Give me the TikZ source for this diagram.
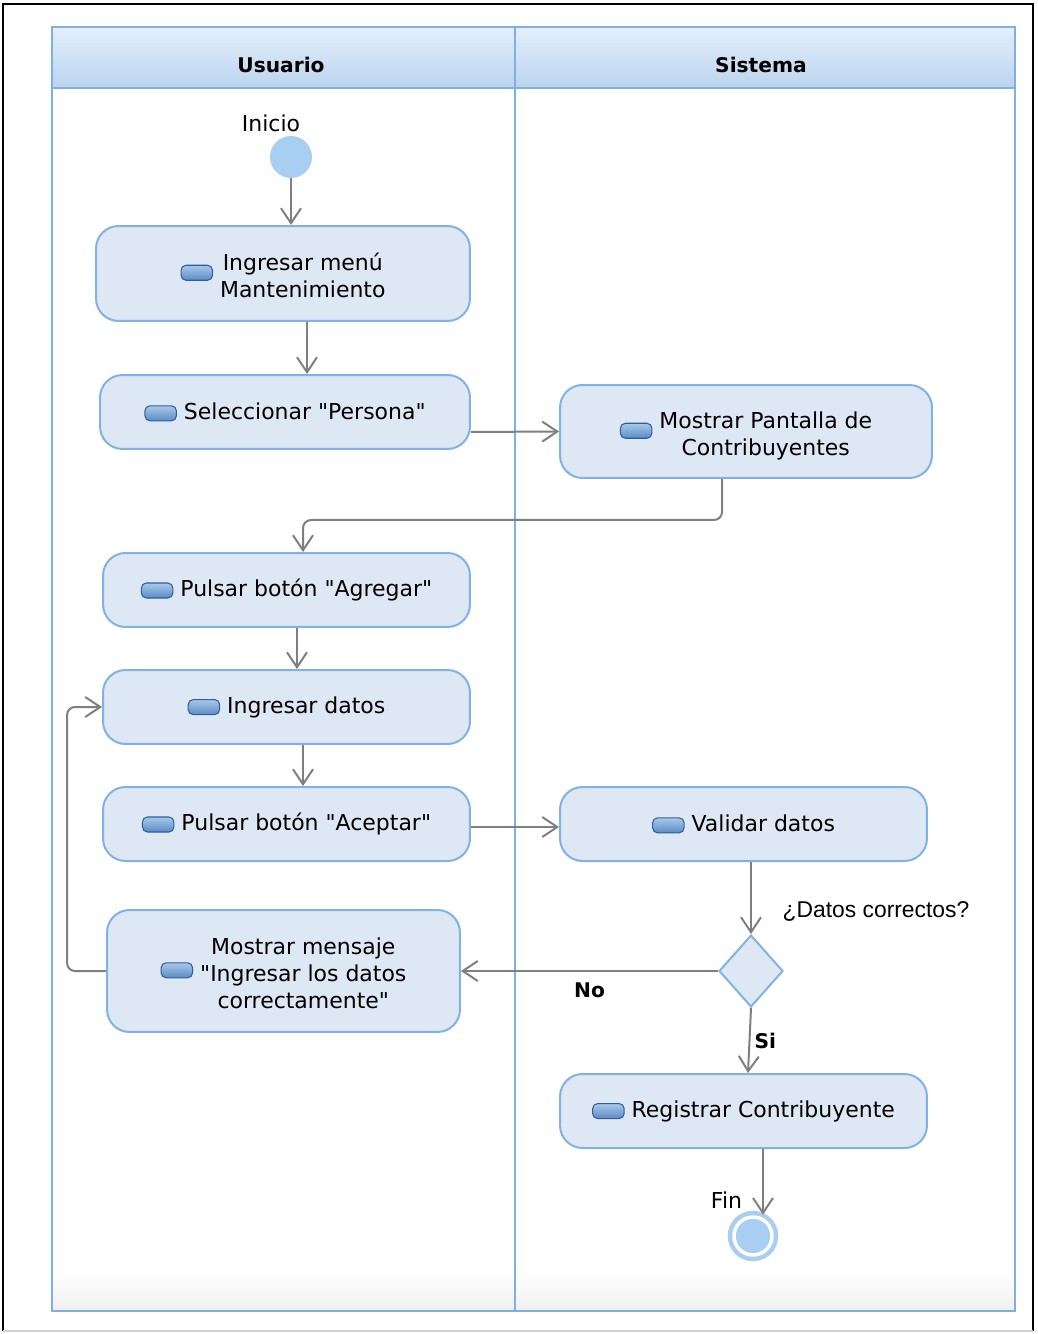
\documentclass[tikz,border=0pt]{standalone}
\usepackage{fontspec}
\setmainfont{DejaVu Sans}[Ligatures=TeXOff]
\newfontfamily\qfont{Liberation Sans}
\usepackage{tikz}
\usetikzlibrary{arrows.meta,shapes.geometric,calc}

\definecolor{lanebd}{HTML}{7FB0E2}
\definecolor{hdtop}{HTML}{E4EFFA}
\definecolor{hdbot}{HTML}{BAD4EE}
\definecolor{actfill}{HTML}{DEE8F4}
\definecolor{actbd}{HTML}{80B2E4}
\definecolor{dotfill}{HTML}{A8CEF2}
\definecolor{flowgray}{HTML}{7F7F7F}
\definecolor{icontop}{HTML}{A9C8EA}
\definecolor{iconmid}{HTML}{D2E3F5}
\definecolor{iconbot}{HTML}{5A8CC4}
\definecolor{iconbd}{HTML}{2F5F98}

\newcommand{\actfont}{\fontsize{12.5}{15.5}\selectfont}
\newcommand{\acticon}{%
  \tikz[x=1cm, y=1cm, baseline=-0.12cm]
    \shade[top color=icontop, middle color=iconmid, bottom color=iconbot,
           draw=iconbd, line width=0.6pt, rounded corners=0.1cm]
      (0,-0.15) rectangle (0.63,0.15);%
  \hspace{0.14cm}}
\newcommand{\actlines}[1]{%
  \raisebox{-0.1cm}[\height][\depth]{\begin{tabular}{@{}c@{}}#1\end{tabular}}}

\tikzset{
  lanebox/.style  = {draw=lanebd, line width=0.04cm},
  lanehead/.style = {top color=hdtop, bottom color=hdbot, draw=lanebd,
                     line width=0.04cm},
  headtxt/.style  = {font=\fontsize{11.5}{14}\selectfont\bfseries, inner sep=0pt},
  actbox/.style   = {draw=actbd, fill=actfill, line width=0.04cm,
                     rounded corners=0.45cm, align=center, font=\actfont,
                     inner sep=0pt},
  choice/.style   = {diamond, draw=actbd, fill=actfill, line width=0.04cm,
                     minimum width=1.28cm, minimum height=1.44cm, inner sep=0pt},
  startdot/.style = {circle, fill=dotfill, minimum size=0.84cm, inner sep=0pt},
  enddot/.style   = {circle, fill=dotfill, draw=dotfill, line width=0.09cm,
                     double=white, double distance=0.07cm,
                     minimum size=0.76cm, inner sep=0pt},
  flowar/.style   = {-{Straight Barb[length=0.3cm,width=0.4cm]}, flowgray,
                     line width=0.04cm},
  txtlabel/.style = {font=\actfont, text=black, inner sep=0pt},
  boldlbl/.style  = {font=\fontsize{11.5}{14}\selectfont\bfseries, text=black,
                     inner sep=0pt}
}

\begin{document}
\begin{tikzpicture}[x=0.02cm, y=-0.02cm]
  \useasboundingbox (0,0) rectangle (1037,1334);

  % outer frame
  \draw[black, line width=0.05cm] (3,1331) -- (3,4) -- (1033,4) -- (1033,1331);
  \draw[gray!35, line width=0.04cm] (3,1331) -- (1033,1331);

  % swimlanes
  \shade[top color=white, bottom color=gray!12] (52,1272) rectangle (1015,1311);
  \path[lanehead] (52,27) rectangle (1015,88);
  \draw[lanebox] (52,27) rectangle (1015,1311);
  \draw[lanebox] (515,27) -- (515,1311);
  \node[headtxt] (husr) at (281,65) {Usuario};
  \node[headtxt] (hsis) at (761,65) {Sistema};

  % Usuario
  \node[txtlabel] (inilbl) at (271,123) {Inicio};
  \node[startdot] (init) at (291,157) {};
  \node[actbox, minimum width=7.48cm, minimum height=1.9cm] (a1) at (283,273.5)
    {\acticon\actlines{Ingresar menú\\Mantenimiento}};
  \node[actbox, minimum width=7.4cm, minimum height=1.48cm] (a2) at (285,412)
    {\acticon Seleccionar "Persona"};
  \node[actbox, minimum width=7.34cm, minimum height=1.48cm] (a4) at (286.5,590)
    {\acticon Pulsar botón "Agregar"};
  \node[actbox, minimum width=7.34cm, minimum height=1.48cm] (a5) at (286.5,707)
    {\acticon Ingresar datos};
  \node[actbox, minimum width=7.34cm, minimum height=1.48cm] (a6) at (286.5,824)
    {\acticon Pulsar botón "Aceptar"};
  \node[actbox, minimum width=7.06cm, minimum height=2.44cm] (a8) at (283.5,971)
    {\acticon\actlines{Mostrar mensaje\\"Ingresar los datos\\correctamente"}};

  % Sistema
  \node[actbox, minimum width=7.44cm, minimum height=1.86cm] (a3) at (746,431.5)
    {\acticon\actlines{Mostrar Pantalla de\\Contribuyentes}};
  \node[actbox, minimum width=7.34cm, minimum height=1.48cm] (a7) at (743.5,824)
    {\acticon Validar datos};
  \node[choice] (dec) at (751,971) {};
  \node[font=\qfont\fontsize{13}{15}\selectfont, inner sep=0pt] (qlbl) at (876,911)
    {¿Datos correctos?};
  \node[actbox, minimum width=7.34cm, minimum height=1.48cm] (a9) at (743.5,1111)
    {\acticon Registrar Contribuyente};
  \node[enddot] (fin) at (753,1236) {};

  % flows
  \draw[flowar] (init) -- (init |- a1.north);
  \draw[flowar] ($(a1.south)+(24,0)$) -- ($(a2.north)+(22,0)$);
  \draw[flowar] ($(a2.east)+(0,20)$) -- (a3.west);
  \draw[flowar, rounded corners=0.16cm] ($(a3.south)+(-24,0)$) -- ++(0,41)
    -| ($(a4.north)+(16.5,0)$);
  \draw[flowar] ($(a4.south)+(10.5,0)$) -- ($(a5.north)+(10.5,0)$);
  \draw[flowar] ($(a5.south)+(16.5,0)$) -- ($(a6.north)+(16.5,0)$);
  \draw[flowar] ($(a6.east)+(0,3)$) -- ($(a7.west)+(0,3)$);
  \draw[flowar] (a7.south -| dec) -- (dec.north);
  \draw[flowar] (dec.west) -- (a8.east) node[midway, below=0.22cm, boldlbl] {No};
  \draw[flowar] (dec.south) -- ($(a9.north)+(4.5,0)$)
    node[midway, right=0.08cm, boldlbl] {Si};
  \draw[flowar, rounded corners=0.16cm] (a8.west) -- ++(-39,0) |- (a5.west);
  \coordinate (finin) at ($(a9.south)+(19.5,0)$);
  \draw[flowar] (finin) -- (finin |- fin.north)
    node[pos=0.78, left=0.4cm, txtlabel] {Fin};
\end{tikzpicture}
\end{document}
